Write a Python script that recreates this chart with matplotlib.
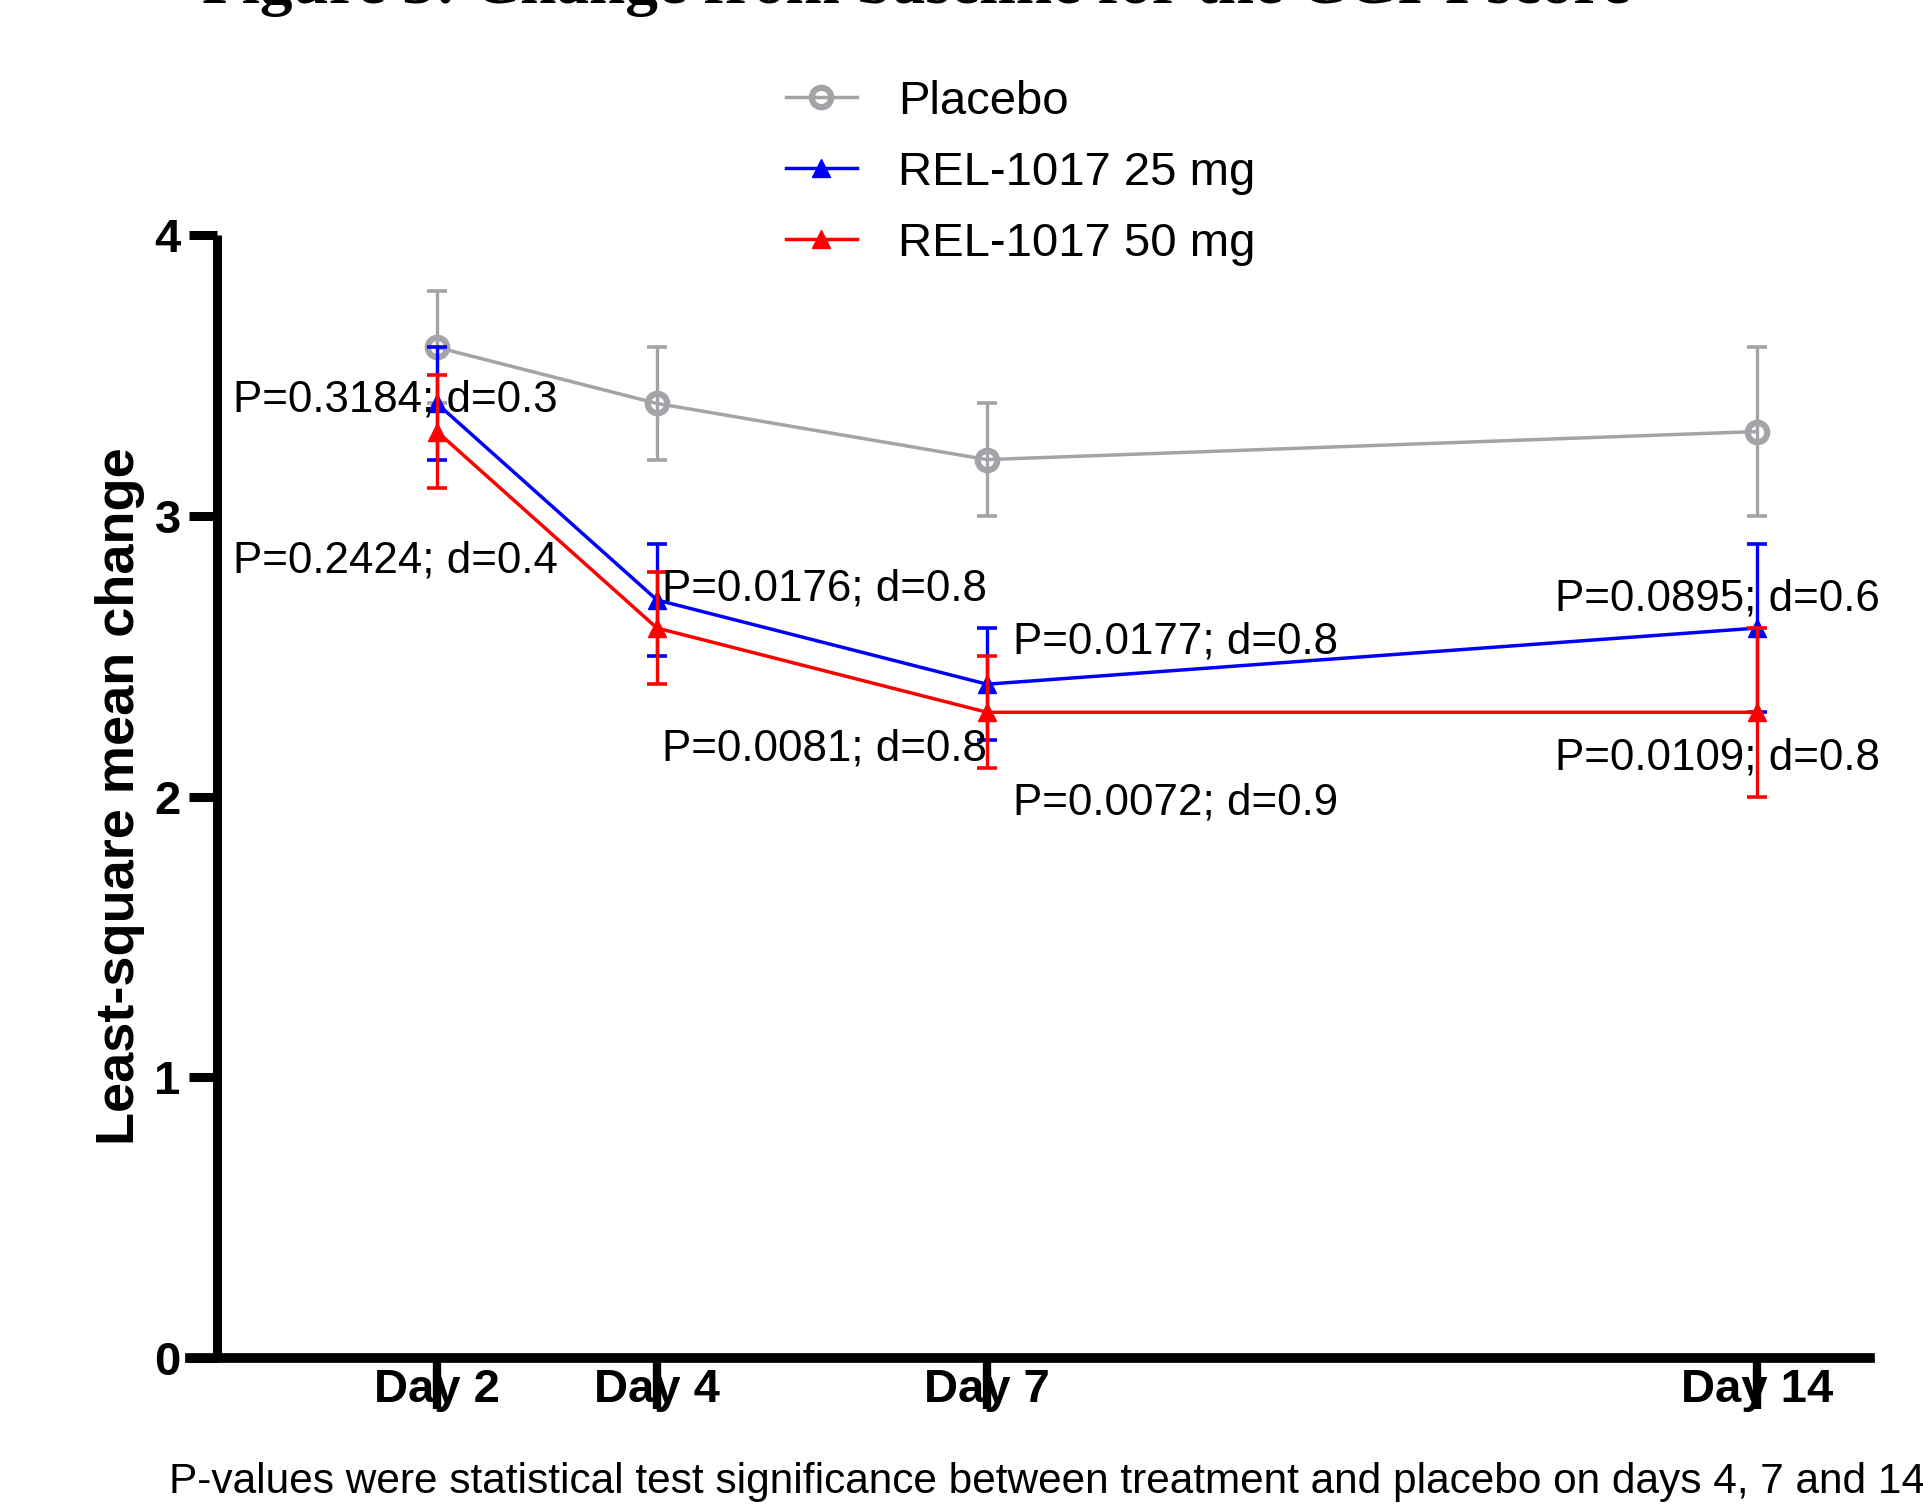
import matplotlib
matplotlib.use("Agg")
from matplotlib import pyplot as plt

plt.rcParams['font.family'] = ['Liberation Sans', 'DejaVu Sans']

days = [2, 4, 7, 14]
day_labels = ['Day 2', 'Day 4', 'Day 7', 'Day 14']

placebo_mean = [3.6, 3.4, 3.2, 3.3]
placebo_low = [3.4, 3.2, 3.0, 3.0]
placebo_high = [3.8, 3.6, 3.4, 3.6]

mg25_mean = [3.4, 2.7, 2.4, 2.6]
mg25_low = [3.2, 2.5, 2.2, 2.3]
mg25_high = [3.6, 2.9, 2.6, 2.9]

mg50_mean = [3.3, 2.6, 2.3, 2.3]
mg50_low = [3.1, 2.4, 2.1, 2.0]
mg50_high = [3.5, 2.8, 2.5, 2.6]

# p-value / effect size notes (25 mg first, then 50 mg, per day)
notes_25 = ['P=0.3184; d=0.3', 'P=0.0176; d=0.8', 'P=0.0177; d=0.8', 'P=0.0895; d=0.6']
notes_50 = ['P=0.2424; d=0.4', 'P=0.0081; d=0.8', 'P=0.0072; d=0.9', 'P=0.0109; d=0.8']
note_x = [0.145, 4.045, 7.236, 12.164]
note_y25 = [3.413, 2.74, 2.551, 2.704]
note_y50 = [2.84, 2.17, 1.978, 2.138]

grey = '#a3a3a8'
blue = '#0000ff'
red = '#ff0000'

fig = plt.figure(figsize=(19.23, 15.09), dpi=100)
ax = fig.add_axes([190 / 1923, 151 / 1509, 1680 / 1923, 1123 / 1509])

series = [
    ('Placebo', placebo_mean, placebo_low, placebo_high, grey, 'o'),
    ('REL-1017 25 mg', mg25_mean, mg25_low, mg25_high, blue, '^'),
    ('REL-1017 50 mg', mg50_mean, mg50_low, mg50_high, red, '^'),
]

for name, mean, low, high, col, mk in series:
    yerr = [[m - l for m, l in zip(mean, low)], [h - m for m, h in zip(mean, high)]]
    ax.errorbar(days, mean, yerr=yerr, fmt='none', ecolor=col, elinewidth=2.4,
                capsize=7.5, capthick=2.6, clip_on=False)
    if mk == 'o':
        ax.plot(days, mean, color=col, lw=2.5, marker='o', markersize=14,
                markerfacecolor='none', markeredgewidth=4.5, label=name, clip_on=False)
    else:
        ax.plot(days, mean, color=col, lw=2.5, marker='^', markersize=13.5,
                markeredgewidth=1, label=name, clip_on=False)

for x, y, s in zip(note_x, note_y25, notes_25):
    ax.text(x, y, s, fontsize=31.6, ha='left', va='center')
for x, y, s in zip(note_x, note_y50, notes_50):
    ax.text(x, y, s, fontsize=31.6, ha='left', va='center')

ax.set_xlim(-0.245, 15.027)
ax.set_ylim(0, 4)
ax.spines['top'].set_visible(False)
ax.spines['right'].set_visible(False)
ax.spines['left'].set_position(('data', 0))
ax.spines['left'].set_linewidth(6.5)
ax.spines['bottom'].set_linewidth(7)
ax.spines['left'].set_capstyle('butt')

ax.set_xticks(days)
ax.set_xticklabels(day_labels, fontsize=34, fontweight='bold')
ax.set_yticks([0, 1, 2, 3, 4])
ax.set_yticklabels(['0', '1', '2', '3', '4'], fontsize=34, fontweight='bold')
ax.tick_params(axis='x', length=37, width=6, pad=-29.5)
ax.tick_params(axis='y', length=20, width=6.5, pad=6)

ax.set_ylabel('Least-square mean change', fontsize=39, fontweight='bold')
ax.yaxis.set_label_coords(-0.027, 0.5)

fig.legend(loc='upper left', bbox_to_anchor=(786 / 1923, 0.947), frameon=False,
           borderpad=0, borderaxespad=0, handlelength=1.5, handletextpad=0.87,
           labelspacing=0.57, fontsize=34)

fig.text(202 / 1923, 1 - 3 / 1509, 'Figure 3: Change from baseline for the CGI-I score',
         family='Liberation Serif', fontweight='bold', fontsize=47, va='baseline', ha='left')

fig.text(169 / 1923, 0.0179,
         'P-values were statistical test significance between treatment and placebo on days 4, 7 and 14',
         fontsize=30.5, va='center', ha='left')

fig.savefig('out.png', dpi=100)
